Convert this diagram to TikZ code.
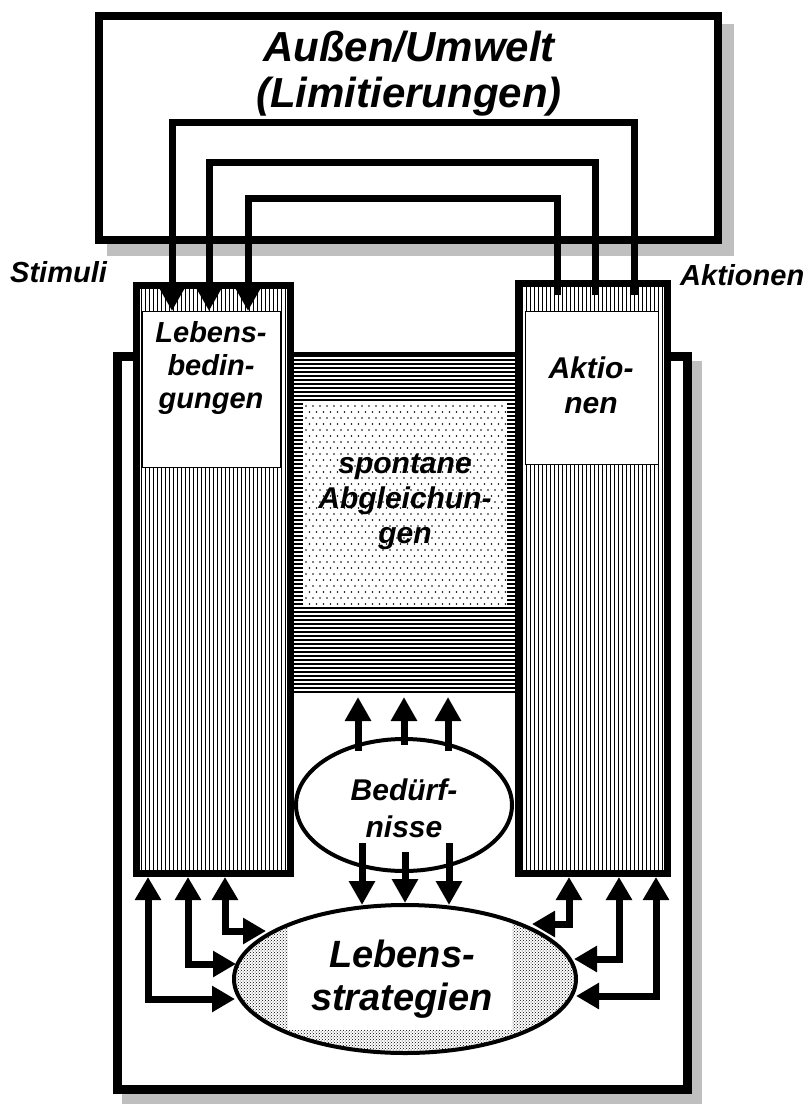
\documentclass[tikz,border=0pt]{standalone}
\usepackage{fontspec}
\setmainfont{Liberation Sans}
\usetikzlibrary{arrows.meta,patterns,shapes.geometric}
\newcommand\myfs[1]{\fontsize{#1}{#1}\selectfont}
\begin{document}
\begin{tikzpicture}[x=1pt,y=-1pt,
  wire/.style={line width=7pt},
  tip/.style={-{Triangle[width=25pt,length=24pt]}},
  twotips/.style={{Triangle[width=25pt,length=23pt]}-{Triangle[width=25pt,length=23pt]}},
  lbl/.style={font=\bfseries\itshape, inner sep=0pt},
  shadowfill/.style={fill=black!25},
  hatchline/.style={line width=1.2pt},
  hhatch/.style={line width=2pt}]
\useasboundingbox (0,0) rectangle (811,1107);

% ---------- top box (environment)
\fill[shadowfill] (107,24) rectangle (734,256);
\fill[white] (95,12) rectangle (722,244);
\draw[line width=8pt] (99,16) rectangle (718,240);
\node[lbl, font=\bfseries\itshape\myfs{42}, anchor=base] (umw1) at (409,62) {Außen/Umwelt};
\node[lbl, font=\bfseries\itshape\myfs{42}, anchor=base] (umw2) at (409,108) {(Limitierungen)};

% ---------- organism frame
\fill[shadowfill] (122,361) rectangle (702,1104);
\fill[white] (112,351) rectangle (692,1094);
\draw[line width=9pt] (137,356) -- (117,356) -- (117,1089) -- (687,1089) -- (687,356) -- (667,356);

% ---------- middle region
\fill[white] (294,352) rectangle (515,696);
\foreach \k in {0,...,84} \draw[hhatch] (294,{356+4*\k}) -- (515,{356+4*\k});
\draw[line width=3pt] (294,353.5) -- (515,353.5);
\fill[white] (303,403) rectangle (507,605);
\foreach \j in {0,...,33} \foreach \i in {0,...,28}
  \fill ({306+7*\i+3.5*mod(\j,2)},{406+6*\j}) circle (0.8);
\node[lbl, font=\bfseries\itshape\myfs{30}, anchor=base] (sp1) at (405,473) {spontane};
\node[lbl, font=\bfseries\itshape\myfs{30}, anchor=base] (sp2) at (405,508) {Abgleichun-};
\node[lbl, font=\bfseries\itshape\myfs{30}, anchor=base] (sp3) at (405,543) {gen};

% ---------- left column
\fill[white] (137,286) rectangle (290,873);
\foreach \k in {0,...,36} \draw[hatchline] ({141.5+4*\k},286) -- ({141.5+4*\k},873);
\draw[fill=white, line width=0.8pt] (142,311) rectangle (280,467);
\draw[line width=7pt] (136.5,285.5) rectangle (290.5,873.5);
\node[lbl, font=\bfseries\itshape\myfs{29}, anchor=base] (lb1) at (211,342) {Lebens-};
\node[lbl, font=\bfseries\itshape\myfs{29}, anchor=base] (lb2) at (211,375) {bedin-};
\node[lbl, font=\bfseries\itshape\myfs{29}, anchor=base] (lb3) at (211,408) {gungen};

% ---------- right column
\fill[white] (518,284) rectangle (668,873);
\foreach \k in {0,...,35} \draw[hatchline] ({522.5+4*\k},284) -- ({522.5+4*\k},873);
\draw[fill=white, line width=0.8pt] (525,311) rectangle (658,464);
\draw[line width=7pt] (518.5,283.5) rectangle (667.5,873.5);
\node[lbl, font=\bfseries\itshape\myfs{30}, anchor=base] (ak1) at (591,378) {Aktio-};
\node[lbl, font=\bfseries\itshape\myfs{30}, anchor=base] (ak2) at (591,413) {nen};

% ---------- side labels
\node[lbl, font=\bfseries\itshape\myfs{29}, anchor=base west] (stim) at (10,282) {Stimuli};
\node[lbl, font=\bfseries\itshape\myfs{29}, anchor=base west] (aktl) at (680,285) {Aktionen};

% ---------- wires between environment and columns
\coordinate (wL1) at (172,311); \coordinate (wR1) at (634,295);
\coordinate (wL2) at (209,311); \coordinate (wR2) at (595,295);
\coordinate (wL3) at (248,311); \coordinate (wR3) at (557,295);
\draw[wire,tip] (wR1) -- ++(0,-172) -| (wL1);
\draw[wire,tip] (wR2) -- ++(0,-132) -| (wL2);
\draw[wire,tip] (wR3) -- ++(0,-96) -| (wL3);

% ---------- Beduerfnisse
\node[ellipse, draw, line width=4pt, fill=white, minimum width=216pt, minimum height=132pt, inner sep=0pt] (bed) at (404,805) {};
\node[lbl, font=\bfseries\itshape\myfs{30}, anchor=base] (bd1) at (404,800) {Bedürf-};
\node[lbl, font=\bfseries\itshape\myfs{30}, anchor=base] (bd2) at (404,837) {nisse};

\coordinate (u1s) at (358,751); \coordinate (u1e) at (358,697);
\coordinate (u2s) at (404,745); \coordinate (u2e) at (404,697);
\coordinate (u3s) at (448,751); \coordinate (u3e) at (448,697);
\draw[wire,tip] (u1s) -- (u1e);
\draw[wire,tip] (u2s) -- (u2e);
\draw[wire,tip] (u3s) -- (u3e);

% ---------- Lebensstrategien
\fill[pattern=crosshatch dots] (405,979) ellipse [x radius=171, y radius=74];
\begin{scope}
  \clip (405,979) ellipse [x radius=171, y radius=74];
  \fill[white] (288,900) rectangle (512,1030);
\end{scope}
\node[ellipse, draw, line width=4pt, minimum width=342pt, minimum height=148pt, inner sep=0pt] (ls) at (405,979) {};
\node[lbl, font=\bfseries\itshape\myfs{38}, anchor=base] (ls1) at (402,967) {Lebens-};
\node[lbl, font=\bfseries\itshape\myfs{38}, anchor=base] (ls2) at (402,1010) {strategien};

\coordinate (d1s) at (362,843); \coordinate (d1e) at (362,905);
\coordinate (d2s) at (405,852); \coordinate (d2e) at (405,903);
\coordinate (d3s) at (449,843); \coordinate (d3e) at (449,905);
\draw[wire,tip] (d1s) -- (d1e);
\draw[wire,tip] (d2s) -- (d2e);
\draw[wire,tip] (d3s) -- (d3e);

% ---------- L-shaped double arrows
\coordinate (la1) at (148,877); \coordinate (lb1e) at (235,999);
\coordinate (la2) at (188,877); \coordinate (lb2e) at (236,964);
\coordinate (la3) at (225,877); \coordinate (lb3e) at (266,931);
\coordinate (ra1) at (656,877); \coordinate (rb1e) at (576,996);
\coordinate (ra2) at (619,877); \coordinate (rb2e) at (574,959);
\coordinate (ra3) at (569,877); \coordinate (rb3e) at (532,924);
\draw[wire,twotips] (la1) |- (lb1e);
\draw[wire,twotips] (la2) |- (lb2e);
\draw[wire,twotips] (la3) |- (lb3e);
\draw[wire,twotips] (ra1) |- (rb1e);
\draw[wire,twotips] (ra2) |- (rb2e);
\draw[wire,twotips] (ra3) |- (rb3e);
\end{tikzpicture}
\end{document}
